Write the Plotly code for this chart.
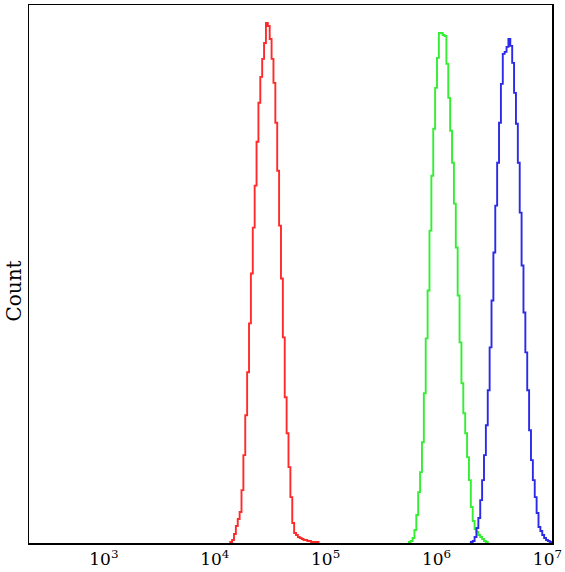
import numpy as np
import plotly.graph_objects as go

# Shared log-channel grid (log10 of fluorescence)
channel_start_log = 4.1395   # log10 of left edge of channel 0
channel_width_log = 0.01695  # decades per channel

# Histogram counts (arbitrary units) and first channel index of each series
red_first_channel = 0
red_counts = [1, 3, 9, 17, 24, 31, 53, 88, 128, 171, 220, 270, 316, 358, 402, 441,
              467, 485, 501, 521, 518, 505, 485, 461, 421, 373, 318, 265, 206, 146,
              110, 76, 46, 20, 10, 8, 6, 5, 4, 3, 3, 2, 2, 1, 1, 1, 1]

green_first_channel = 95
green_counts = [1, 2, 5, 13, 28, 51, 71, 101, 150, 205, 253, 313, 368, 415, 456, 486,
                511, 511, 509, 508, 480, 446, 413, 381, 340, 296, 248, 201, 160, 130,
                110, 86, 63, 36, 22, 14, 11, 8, 6, 4, 2, 1]

blue_first_channel = 128
blue_counts = [1, 2, 6, 15, 25, 43, 63, 88, 118, 153, 196, 243, 291, 338, 381, 421,
               460, 490, 492, 497, 505, 498, 481, 451, 420, 381, 331, 278, 231, 191,
               153, 113, 83, 63, 46, 30, 16, 12, 8, 5, 3, 2, 1]

tick_powers = [3, 4, 5, 6, 7]
tick_labels = ["10<sup>3</sup>", "10<sup>4</sup>", "10<sup>5</sup>", "10<sup>6</sup>", "10<sup>7</sup>"]

x_range_log = [2.325, 7.041]
y_max = 539

series = [
    (red_first_channel, red_counts, "#ff2b2b"),
    (green_first_channel, green_counts, "#33ee33"),
    (blue_first_channel, blue_counts, "#2a2ae8"),
]

fig = go.Figure()
for first, counts, color in series:
    n = len(counts)
    edges = [10 ** (channel_start_log + (first + k) * channel_width_log) for k in range(n + 1)]
    xs = [edges[0]] + edges[:n] + [edges[n]]
    ys = [0] + list(counts) + [0]
    fig.add_trace(go.Scatter(x=xs, y=ys, mode="lines", line=dict(color=color, width=1.9, shape="hv"),
                             showlegend=False, hoverinfo="skip"))

fig.update_layout(
    width=565, height=572,
    margin=dict(l=29, r=12, t=3, b=29),
    paper_bgcolor="white", plot_bgcolor="white",
    font=dict(family="DejaVu Serif", color="black", size=16),
    xaxis=dict(type="log", range=x_range_log, showgrid=False, zeroline=False,
               showline=True, linecolor="black", linewidth=1.5, mirror=True,
               tickvals=[10 ** p for p in tick_powers], ticktext=tick_labels,
               ticks="", tickfont=dict(family="DejaVu Serif", size=17, color="black")),
    yaxis=dict(range=[0, y_max], showgrid=False, zeroline=False, showticklabels=False,
               showline=True, linecolor="black", linewidth=1.5, mirror=True, ticks=""),
    annotations=[dict(text="Count", textangle=-90, xref="paper", yref="paper",
                      x=-0.028, y=0.468, xanchor="center", yanchor="middle", showarrow=False,
                      font=dict(family="DejaVu Serif", size=20, color="black"))],
)

fig.write_html("out.html", config={"displayModeBar": False, "staticPlot": True},
               post_script="document.body.style.margin='0';document.body.style.padding='0';"
                           "document.documentElement.style.overflow='hidden';")
